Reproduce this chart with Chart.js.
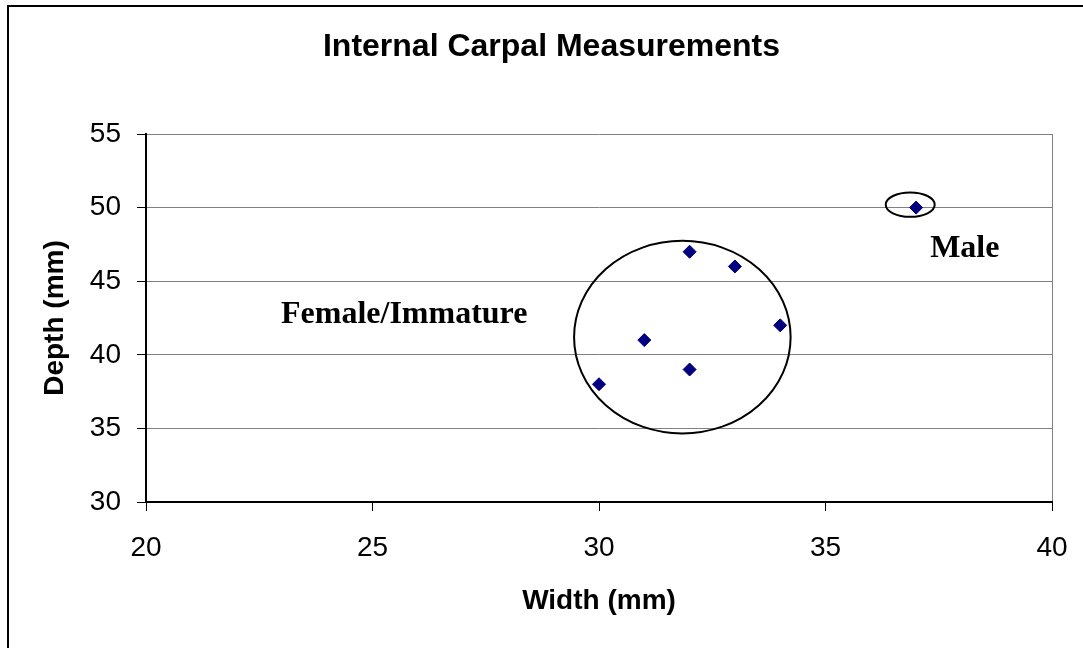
<!DOCTYPE html>
<html><head><meta charset="utf-8">
<style>html,body{margin:0;padding:0;background:#fff;}#wrap{width:1083px;height:648px;}</style>
<script src="https://cdn.jsdelivr.net/npm/chart.js@4/dist/chart.umd.min.js"></script>
</head><body><div id="wrap"><canvas id="c" width="1083" height="648"></canvas></div>
<script>
const chartTitle = 'Internal Carpal Measurements';
const xAxisTitle = 'Width (mm)';
const yAxisTitle = 'Depth (mm)';
const widthMm = [30, 31, 32, 32, 33, 34, 37];
const depthMm = [38, 41, 47, 39, 46, 42, 50];
const xTicks = [20, 25, 30, 35, 40];
const yTicks = [30, 35, 40, 45, 50, 55];
const groupLabels = ['Female/Immature', 'Male'];
const groupLabelX = [22.98, 37.31];
const groupLabelY = [42.15, 46.65];
const ellipseCx = [31.84, 36.87];
const ellipseCy = [41.2, 50.2];
const ellipseRx = [2.39, 0.54];
const ellipseRy = [6.54, 0.83];

const points = widthMm.map((w, i) => ({x: w, y: depthMm[i]}));
const sans = '"Liberation Sans", Arial, sans-serif';

const framePlugin = {
  id: 'frame',
  beforeDraw(chart) {
    const ctx = chart.ctx;
    ctx.save();
    ctx.fillStyle = '#fff';
    ctx.fillRect(0, 0, chart.width, chart.height);
    ctx.strokeStyle = '#000';
    ctx.lineWidth = 2;
    ctx.strokeRect(8, 6, chart.width + 50, chart.height + 50);
    ctx.restore();
  }
};

const groupsPlugin = {
  id: 'groups',
  beforeDatasetsDraw(chart) {
    const {ctx, scales: {x, y}} = chart;
    ctx.save();
    ctx.strokeStyle = '#000';
    ctx.lineWidth = 2;
    for (let i = 0; i < ellipseCx.length; i++) {
      const cx = x.getPixelForValue(ellipseCx[i]);
      const cy = y.getPixelForValue(ellipseCy[i]);
      const rx = Math.abs(x.getPixelForValue(ellipseCx[i] + ellipseRx[i]) - cx);
      const ry = Math.abs(y.getPixelForValue(ellipseCy[i] + ellipseRy[i]) - cy);
      ctx.beginPath();
      ctx.ellipse(cx, cy, rx, ry, 0, 0, Math.PI * 2);
      ctx.stroke();
    }
    ctx.fillStyle = '#000';
    ctx.font = 'bold 32px "Liberation Serif", "Times New Roman", serif';
    ctx.textAlign = 'left';
    ctx.textBaseline = 'alphabetic';
    for (let i = 0; i < groupLabels.length; i++) {
      ctx.fillText(groupLabels[i], x.getPixelForValue(groupLabelX[i]), y.getPixelForValue(groupLabelY[i]));
    }
    ctx.restore();
  }
};

new Chart(document.getElementById('c'), {
  type: 'scatter',
  data: {
    datasets: [{
      data: points,
      pointStyle: 'rectRot',
      pointRadius: 6.5,
      pointHoverRadius: 6.5,
      backgroundColor: '#000080',
      borderColor: '#000080',
      borderWidth: 1
    }]
  },
  options: {
    responsive: false,
    animation: false,
    devicePixelRatio: 1,
    layout: {padding: {left: 51, right: 31, top: 0, bottom: 0}},
    plugins: {
      legend: {display: false},
      tooltip: {enabled: false},
      title: {
        display: true,
        text: chartTitle,
        color: '#000',
        font: {family: sans, size: 32, weight: 'bold'},
        padding: {top: 28, bottom: 67.6}
      }
    },
    scales: {
      x: {
        type: 'linear',
        min: xTicks[0],
        max: xTicks[xTicks.length - 1],
        afterBuildTicks: s => { s.ticks = xTicks.map(v => ({value: v})); },
        afterFit: s => { s.height = 146; s.paddingLeft = 0; s.paddingRight = 0; },
        ticks: {color: '#000', font: {family: sans, size: 28}, padding: 20, maxRotation: 0},
        grid: {
          drawOnChartArea: true,
          color: c => (c.tick && c.tick.value === xTicks[xTicks.length - 1]) ? '#808080' : 'rgba(0,0,0,0)',
          tickColor: '#000',
          tickLength: 9,
          lineWidth: 1
        },
        border: {color: '#000', width: 2},
        title: {display: true, text: xAxisTitle, color: '#000', font: {family: sans, size: 28, weight: 'bold'}, padding: {top: 0, bottom: 30}}
      },
      y: {
        type: 'linear',
        min: yTicks[0],
        max: yTicks[yTicks.length - 1],
        afterBuildTicks: s => { s.ticks = yTicks.map(v => ({value: v})); },
        afterFit: s => { s.width = 95; s.paddingTop = 0; s.paddingBottom = 0; },
        ticks: {color: '#000', font: {family: sans, size: 28}, padding: 16},
        grid: {
          color: c => (c.tick && c.tick.value === yTicks[0]) ? 'rgba(0,0,0,0)' : '#808080',
          tickColor: '#000',
          tickLength: 9,
          lineWidth: 1
        },
        border: {color: '#000', width: 2},
        title: {display: true, text: yAxisTitle, color: '#000', font: {family: sans, size: 28, weight: 'bold'}, padding: {top: -12.5, bottom: 0}}
      }
    }
  },
  plugins: [framePlugin, groupsPlugin]
});
</script>
</body></html>
